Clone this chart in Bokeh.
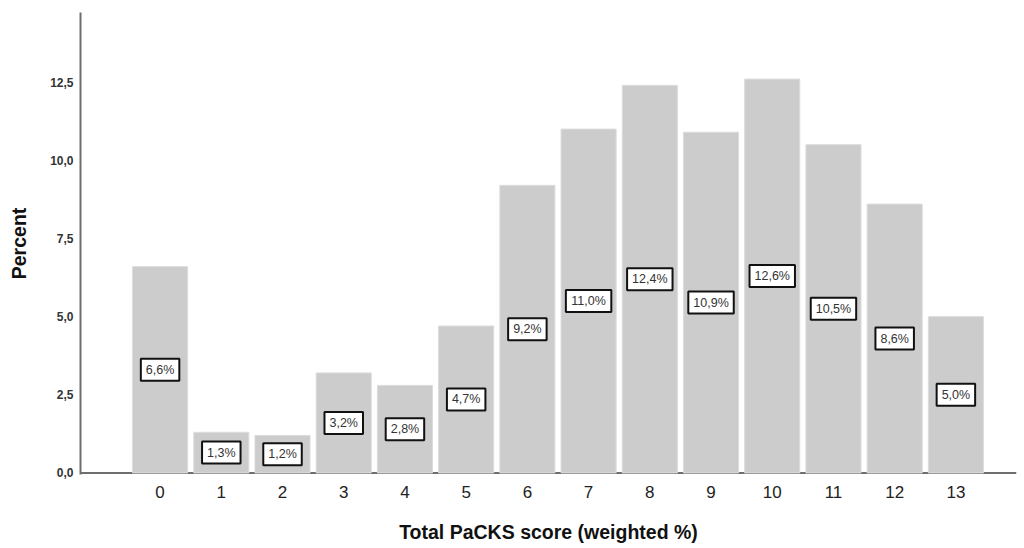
from bokeh.plotting import figure
from bokeh.models import ColumnDataSource, Span, FixedTicker, Range1d
from bokeh.core.properties import value
from bokeh.embed import file_html
from bokeh.resources import INLINE

scores = list(range(14))
percents = [6.6, 1.3, 1.2, 3.2, 2.8, 4.7, 9.2, 11.0, 12.4, 10.9, 12.6, 10.5, 8.6, 5.0]
bar_labels = [f"{v:.1f}".replace(".", ",") + "%" for v in percents]
y_ticks = [0, 2.5, 5, 7.5, 10, 12.5]
y_tick_labels = {0: "0,0", 2.5: "2,5", 5: "5,0", 7.5: "7,5", 10: "10,0", 12.5: "12,5"}

LABEL_PX = 12.5
char_em = {",": 0.278, "%": 0.889}


def box_width(s):
    return 10 + LABEL_PX * sum(char_em.get(c, 0.556) for c in s)


source = ColumnDataSource(data=dict(
    x=scores,
    top=percents,
    mid=[v / 2 for v in percents],
    label=bar_labels,
    boxw=[box_width(s) for s in bar_labels],
))

p = figure(width=1024, height=548, output_backend="svg", toolbar_location=None,
           x_range=Range1d(-1.3, 13.99), y_range=Range1d(-0.05, 14.73),
           min_border_left=80, min_border_top=12, min_border_right=8, min_border_bottom=74)
p.outline_line_color = None
p.xgrid.visible = False
p.ygrid.visible = False

baseline = Span(location=0, dimension="width", line_color="#6e6e6e", line_width=2, level="underlay")
p.add_layout(baseline)

p.vbar(x="x", top="top", bottom=0, width=0.9, source=source,
       fill_color="#cccccc", line_color="#dcdcdc", line_width=1)

p.rect(x="x", y="mid", width="boxw", height=22, width_units="screen", height_units="screen",
       source=source, fill_color="white", line_color="#111111", line_width=2)
p.text(x="x", y="mid", text="label", source=source,
       text_align="center", text_baseline="middle",
       text_font=value("Liberation Sans"), text_font_size=f"{LABEL_PX}px", text_color="#333333")

# axes
p.xaxis.ticker = FixedTicker(ticks=scores)
p.xaxis.axis_line_color = None
p.xaxis.major_tick_line_color = None
p.xaxis.major_tick_out = 0
p.xaxis.major_tick_in = 0
p.xaxis.minor_tick_line_color = None
p.xaxis.major_label_text_font = "Liberation Sans"
p.xaxis.major_label_text_font_size = "17px"
p.xaxis.major_label_text_color = "#222222"
p.xaxis.major_label_standoff = 11
p.xaxis.axis_label = "Total PaCKS score (weighted %)"
p.xaxis.axis_label_text_font = "Liberation Sans"
p.xaxis.axis_label_text_font_size = "19.5px"
p.xaxis.axis_label_text_font_style = "bold"
p.xaxis.axis_label_text_color = "#111111"
p.xaxis.axis_label_standoff = 20

p.yaxis.ticker = FixedTicker(ticks=y_ticks)
p.yaxis.major_label_overrides = y_tick_labels
p.yaxis.axis_line_color = "#6e6e6e"
p.yaxis.axis_line_width = 2
p.yaxis.major_tick_line_color = None
p.yaxis.major_tick_out = 0
p.yaxis.major_tick_in = 0
p.yaxis.minor_tick_line_color = None
p.yaxis.major_label_text_font = "Liberation Sans"
p.yaxis.major_label_text_font_size = "12px"
p.yaxis.major_label_text_font_style = "bold"
p.yaxis.major_label_text_color = "#333333"
p.yaxis.major_label_standoff = 7
p.yaxis.axis_label = "Percent"
p.yaxis.axis_label_text_font = "Liberation Sans"
p.yaxis.axis_label_text_font_size = "19.5px"
p.yaxis.axis_label_text_font_style = "bold"
p.yaxis.axis_label_text_color = "#111111"
p.yaxis.axis_label_standoff = 17

open("out.html", "w").write(file_html(p, INLINE))
